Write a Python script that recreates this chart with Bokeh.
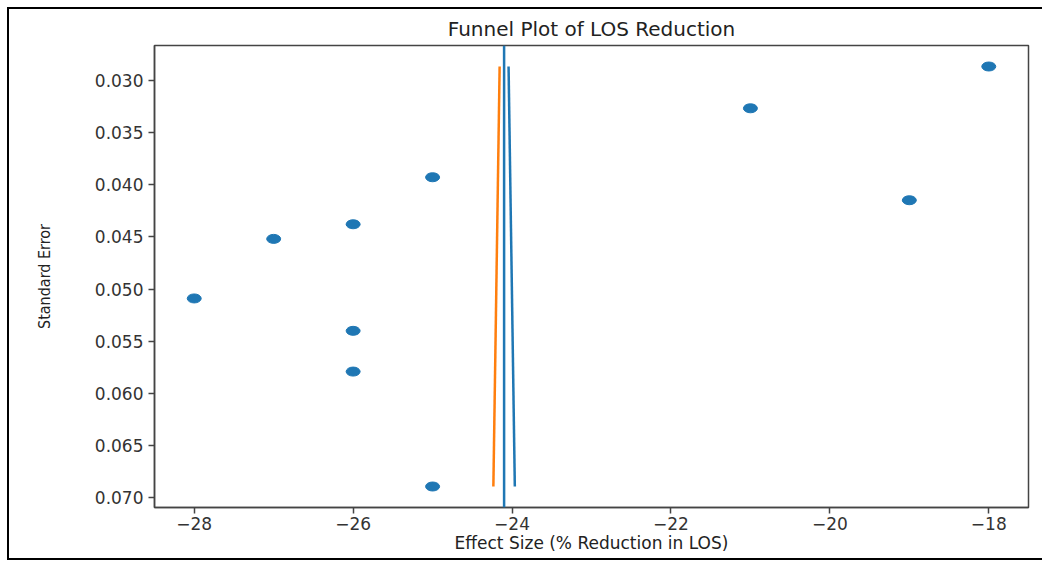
import numpy as np
from bokeh.plotting import figure
from bokeh.models import Range1d, FixedTicker, Span, CustomJSTickFormatter, PrintfTickFormatter, ColumnDataSource
from bokeh.embed import file_html
from bokeh.resources import INLINE

# Data
effect_size = [-18, -21, -19, -25, -26, -27, -28, -26, -26, -25]
std_error = [0.0287, 0.0327, 0.0415, 0.0393, 0.0438, 0.0452, 0.0509, 0.0540, 0.0579, 0.0689]
x_ticks = [-28, -26, -24, -22, -20, -18]
y_ticks = [0.030, 0.035, 0.040, 0.045, 0.050, 0.055, 0.060, 0.065, 0.070]

es = np.array(effect_size, dtype=float)
se = np.array(std_error, dtype=float)
mean_es = es.mean()

# matplotlib-like 5% margins
def padded(lo, hi, m=0.05):
    d = (hi - lo) * m
    return lo - d, hi + d

x0, x1 = padded(es.min(), es.max())
y0, y1 = padded(se.min(), se.max())

p = figure(width=1035, height=553, output_backend="svg", toolbar_location=None,
           x_range=Range1d(x0, x1), y_range=Range1d(y1, y0),
           min_border_left=145, min_border_right=16, min_border_top=35, min_border_bottom=55)
p.styles = {"border": "2px solid black", "border-right": "none",
            "margin-left": "7px", "margin-top": "7px"}

p.title.text = "Funnel Plot of LOS Reduction"
p.title.align = "center"
p.title.text_font = "DejaVu Sans"
p.title.text_font_size = "20px"
p.title.text_font_style = "normal"
p.title.text_color = "#222222"

p.grid.visible = False
p.outline_line_color = "#444444"
p.outline_line_width = 1.5

for ax in (p.xaxis, p.yaxis):
    ax.axis_line_color = "#444444"
    ax.axis_line_width = 1.5
    ax.major_tick_line_color = "#444444"
    ax.major_tick_line_width = 1.5
    ax.major_tick_out = 6
    ax.major_tick_in = 0
    ax.minor_tick_line_color = None
    ax.major_label_text_font = "DejaVu Sans"
    ax.major_label_text_font_size = "17px"
    ax.major_label_text_color = "#333333"
    ax.axis_label_text_font_style = "normal"
    ax.axis_label_text_color = "#222222"

p.xaxis.ticker = FixedTicker(ticks=x_ticks)
p.xaxis.formatter = CustomJSTickFormatter(code="return (tick < 0 ? '\\u2212' : '') + Math.abs(tick).toFixed(0);")
p.xaxis.major_label_standoff = 3
p.xaxis.axis_label = "Effect Size (% Reduction in LOS)"
p.xaxis.axis_label_text_font = "DejaVu Sans"
p.xaxis.axis_label_text_font_size = "17px"
p.xaxis.axis_label_standoff = 0

p.yaxis.ticker = FixedTicker(ticks=y_ticks)
p.yaxis.formatter = PrintfTickFormatter(format="%.3f")
p.yaxis.major_label_standoff = 5
p.yaxis.axis_label = "Standard Error"
p.yaxis.axis_label_text_font = "'Liberation Sans Narrow', 'DejaVu Sans Condensed', sans-serif"
p.yaxis.axis_label_text_font_size = "16px"
p.yaxis.axis_label_standoff = 38

src = ColumnDataSource(data=dict(x=es, y=se))
p.ellipse(x="x", y="y", width=14, height=9, width_units="screen", height_units="screen",
          fill_color="#1f77b4", line_color="#1f77b4", source=src)

se_line = np.array([se.min(), se.max()])
p.line(mean_es - 1.96 * se_line, se_line, line_color="#ff7f0e", line_width=2.5)
p.line(mean_es + 1.96 * se_line, se_line, line_color="#1f77b4", line_width=2.5)
p.add_layout(Span(location=mean_es, dimension="height", line_color="#1f77b4", line_width=2.5))

open("out.html", "w").write(file_html(p, INLINE))
